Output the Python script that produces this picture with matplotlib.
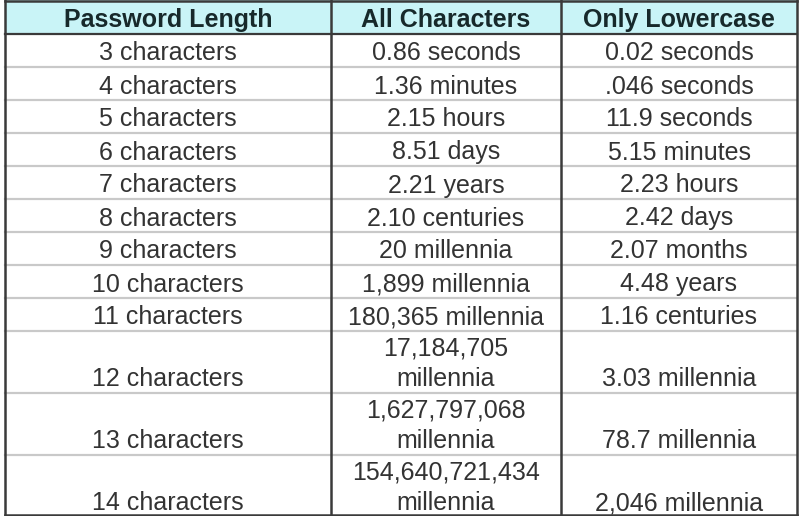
import matplotlib
matplotlib.use("Agg")
import matplotlib.pyplot as plt

# ---- data ----
headers = ["Password Length", "All Characters", "Only Lowercase"]
lengths = ["3 characters", "4 characters", "5 characters", "6 characters",
           "7 characters", "8 characters", "9 characters", "10 characters",
           "11 characters", "12 characters", "13 characters", "14 characters"]
all_chars = ["0.86 seconds", "1.36 minutes", "2.15 hours", "8.51 days",
             "2.21 years", "2.10 centuries", "20 millennia", "1,899 millennia",
             "180,365 millennia", "17,184,705\nmillennia",
             "1,627,797,068\nmillennia", "154,640,721,434\nmillennia"]
lowercase = ["0.02 seconds", ".046 seconds", "11.9 seconds", "5.15 minutes",
             "2.23 hours", "2.42 days", "2.07 months", "4.48 years",
             "1.16 centuries", "3.03 millennia", "78.7 millennia",
             "2,046 millennia"]

# ---- layout / style ----
W, H = 800, 516
col_edges = [5, 331, 561, 797]
header_h = 34
line_h = 29
base_row_h = 33
line_gap = 31
baseline_off = 6.5
font = "Liberation Sans"
fs = 18
dark = "#3a3a3a"
light = "#c9c9c9"
header_fill = "#c9f4f7"
header_text = "#17292b"
body_text = "#333333"

fig = plt.figure(figsize=(W / 100, H / 100), dpi=100)
ax = fig.add_axes([0, 0, 1, 1])
ax.set_xlim(0, W)
ax.set_ylim(H, 0)
ax.axis("off")

# header
ax.add_patch(plt.Rectangle((col_edges[0], 0), col_edges[-1] - col_edges[0], header_h,
                           facecolor=header_fill, edgecolor="none", zorder=0))
for j, h in enumerate(headers):
    cx = (col_edges[j] + col_edges[j + 1]) / 2
    ax.text(cx, header_h - 7, h, ha="center", va="baseline", fontsize=fs,
            fontweight="bold", family=font, color=header_text)

# body rows
y = header_h
row_bottoms = []
for i in range(len(lengths)):
    cells = [lengths[i], all_chars[i], lowercase[i]]
    nlines = max(c.count("\n") + 1 for c in cells)
    rh = base_row_h + line_h * (nlines - 1)
    bottom = y + rh
    for j, c in enumerate(cells):
        cx = (col_edges[j] + col_edges[j + 1]) / 2
        lines = c.split("\n")
        for k, ln in enumerate(reversed(lines)):
            ax.text(cx, bottom - baseline_off - k * line_gap, ln, ha="center",
                    va="baseline", fontsize=fs, family=font, color=body_text)
    row_bottoms.append(bottom)
    y = bottom

# horizontal light lines between rows
for b in row_bottoms[:-1]:
    ax.plot([col_edges[0], col_edges[-1]], [b, b], color=light, lw=1.6, zorder=1)

# header bottom line (dark)
ax.plot([col_edges[0], col_edges[-1]], [header_h, header_h], color=dark, lw=1.6, zorder=2)
# vertical lines
for x in col_edges:
    ax.plot([x, x], [0, H], color=dark, lw=1.8, zorder=2)
# top / bottom border
ax.plot([col_edges[0], col_edges[-1]], [0.8, 0.8], color=dark, lw=1.8, zorder=2)
ax.plot([col_edges[0], col_edges[-1]], [H - 0.8, H - 0.8], color=dark, lw=1.8, zorder=2)

fig.savefig("out.png", dpi=100)
